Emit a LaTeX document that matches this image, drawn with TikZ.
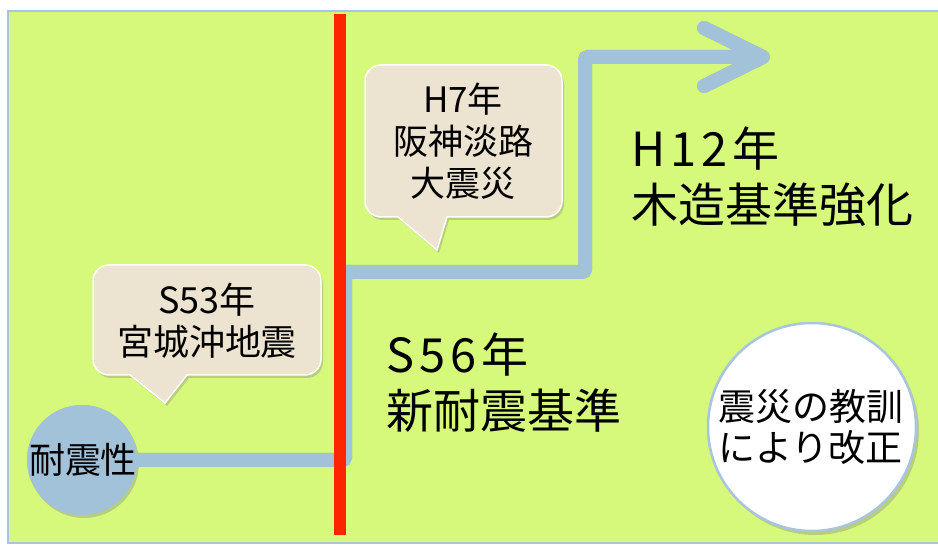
\documentclass[tikz,border=0pt]{standalone}
\usepackage{fontspec}
\setmainfont{Noto Sans CJK JP}
\usetikzlibrary{shadows}
\definecolor{bggreen}{RGB}{214,249,123}
\definecolor{bordblue}{RGB}{168,196,222}
\definecolor{pipeblue}{RGB}{162,194,218}
\definecolor{redline}{RGB}{255,36,0}
\definecolor{beige}{RGB}{237,227,209}
\tikzset{
  pipe/.style={draw=pipeblue,line width=14pt,rounded corners=3pt},
  pipeshadow/.style={draw=black,opacity=.18,line width=14pt,rounded corners=3pt},
  callout/.style={fill=beige,draw=white,line width=1.5pt,drop shadow={opacity=.35,shadow xshift=2pt,shadow yshift=-3pt}},
  calltext/.style={align=center,inner sep=0pt,font=\fontsize{35}{42}\selectfont},
  bigtext/.style={align=left,inner sep=0pt,anchor=west,font=\fontsize{47}{56}\selectfont},
}
\begin{document}
\begin{tikzpicture}[x=1pt,y=-1pt]
\useasboundingbox (0,0) rectangle (938,545);
\fill[white] (0,0) rectangle (938,545);
\draw[fill=bggreen,draw=bordblue,line width=1.5pt] (8,11) rectangle (946,543);
% coordinates of the pipe
\coordinate (c1) at (345,460);
\coordinate (c2) at (345,272);
\coordinate (c3) at (585,272);
\coordinate (c4) at (585,57);
\coordinate (tip) at (763,57);
\coordinate (hu) at (704,28);
\coordinate (hd) at (704,86);
% circle start
\node[circle,fill=pipeblue,minimum size=110pt,inner sep=0pt,drop shadow={opacity=.35,shadow xshift=2pt,shadow yshift=-3pt}] (tai) at (82,460) {};
% pipe shadow
\begin{scope}[shift={(2,3)}]
\draw[pipeshadow] (tai.east) -- (c1) -- (c2) -- (c3) -- (c4) -- ([xshift=-8pt]tip);
\draw[pipeshadow,line cap=round,line join=round,rounded corners=0pt] (hu) -- (tip) -- (hd);
\end{scope}
\draw[pipe] (tai.east) -- (c1) -- (c2) -- (c3) -- (c4) -- ([xshift=-8pt]tip);
\draw[pipe,line cap=round,line join=round,rounded corners=0pt] (hu) -- (tip) -- (hd);
\node[circle,fill=pipeblue,minimum size=110pt,inner sep=0pt] (taifill) at (tai.center) {};
\node[inner sep=0pt,font=\fontsize{36}{40}\selectfont] (taitext) at (83,460) {耐震性};
% red line
\coordinate (rtop) at (340,14);
\coordinate (rbot) at (340,535);
\draw[redline,line width=12pt] (rtop) -- (rbot);
% callout 1
\path[callout] (130,375) [rounded corners=16pt] -- (93,375) -- (93,265) -- (321,265) -- (321,375) [sharp corners] -- (187,375) -- (165,403) -- cycle;
\node[calltext,font=\fontsize{36}{42}\selectfont] (c53) at (207,321) {S53年\\宮城沖地震};
% callout 2
\path[callout] (398,217) [rounded corners=16pt] -- (365,217) -- (365,65) -- (562,65) -- (562,217) [sharp corners] -- (447,217) -- (437,250) -- cycle;
\node[calltext] (h7) at (463,141) {H7年\\阪神淡路\\大震災};
% big texts
\node[bigtext] (s56) at (386,383) {S\kern5pt 5\kern5pt 6\kern5pt 年\\新耐震基準};
\node[bigtext] (h12) at (631,177) {H\kern5pt 1\kern5pt 2\kern5pt 年\\木造基準強化};
% lesson circle
\node[circle,fill=white,draw=bordblue,line width=2.5pt,minimum size=208pt,inner sep=0pt,drop shadow={opacity=.35,shadow xshift=3pt,shadow yshift=-4pt}] (lesson) at (812,427) {};
\node[align=left,inner sep=0pt,font=\fontsize{37}{41}\selectfont] (lessontext) at (811,427) {震災の教訓\\により改正};
\end{tikzpicture}
\end{document}
